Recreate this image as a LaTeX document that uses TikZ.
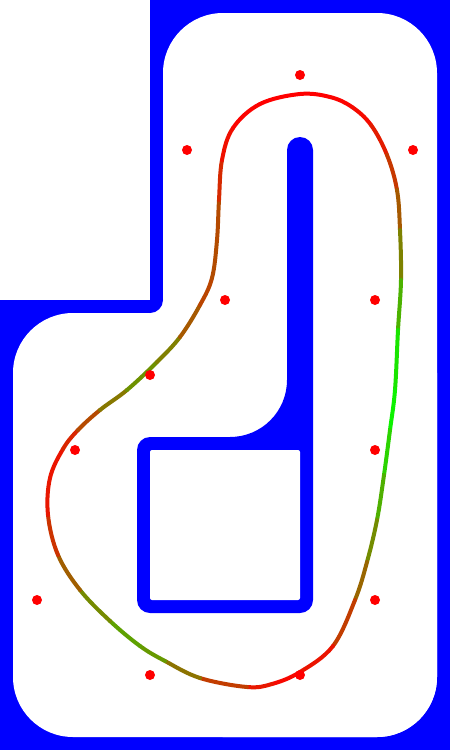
\documentclass[tikz,border=0pt]{standalone}
\usetikzlibrary{calc}
\definecolor{wallblue}{RGB}{0,0,255}
\definecolor{dotred}{RGB}{255,0,0}
\tikzset{
  wall/.style={fill=wallblue},
  floor/.style={fill=white},
  racing/.style={line width=4pt, line cap=round},
  conedot/.style={fill=dotred}
}
\newcommand\redval[1]{\ifcase#1 100\or 100\or 98\or 94\or 85\or 72\or 58\or 40\or 20\or 0\or 10\or 25\or 38\or 52\or 68\or 85\or 100\or 95\or 88\or 65\or 45\or 36\or 38\or 55\or 72\or 88\or 95\or 90\or 80\or 62\or 45\or 42\or 58\or 72\or 75\or 65\or 78\or 90\or 98\or 100\fi}
\begin{document}
\begin{tikzpicture}[x=1pt,y=-1pt]
\useasboundingbox (0,0) rectangle (450,750);
% background walls
\fill[wall] (0,0) rectangle (450,750);
% track floor
\fill[floor, rounded corners=60pt] (163,13) rectangle (437,737);
\fill[floor, rounded corners=60pt] (13,313) rectangle (437,737);
\fill[floor] (150,300) rectangle (163,313);
\fill[wall] (150,300) circle[radius=13pt];
% outside area
\fill[floor] (0,0) rectangle (150,300);
% inner obstacle
\fill[wall] (287,150) .. controls (287,142.8) and (292.8,137) .. (300,137)
  .. controls (307.2,137) and (313,142.8) .. (313,150)
  -- (313,600) .. controls (313,607.2) and (307.2,613) .. (300,613)
  -- (150,613) .. controls (142.8,613) and (137,607.2) .. (137,600)
  -- (137,450) .. controls (137,442.8) and (142.8,437) .. (150,437)
  -- (230,437) .. controls (261.5,437) and (287,411.5) .. (287,380)
  -- cycle;
\fill[floor, rounded corners=2pt] (150,450) rectangle (300,600);
% racing line
\coordinate (c0) at (300,94);
\coordinate (c1) at (330,97);
\coordinate (c2) at (352,107);
\coordinate (c3) at (371,125);
\coordinate (c4) at (387,155);
\coordinate (c5) at (397,190);
\coordinate (c6) at (400,230);
\coordinate (c7) at (401,280);
\coordinate (c8) at (398,330);
\coordinate (c9) at (395,390);
\coordinate (c10) at (390,430);
\coordinate (c11) at (384,475);
\coordinate (c12) at (377,520);
\coordinate (c13) at (367,562);
\coordinate (c14) at (355,600);
\coordinate (c15) at (333,646);
\coordinate (c16) at (300,672);
\coordinate (c17) at (272,684);
\coordinate (c18) at (247,687);
\coordinate (c19) at (200,678);
\coordinate (c20) at (165,661);
\coordinate (c21) at (140,646);
\coordinate (c22) at (110,621);
\coordinate (c23) at (80,590);
\coordinate (c24) at (58,555);
\coordinate (c25) at (48,515);
\coordinate (c26) at (50,478);
\coordinate (c27) at (63,449);
\coordinate (c28) at (78,430);
\coordinate (c29) at (100,410);
\coordinate (c30) at (127,390);
\coordinate (c31) at (157,362);
\coordinate (c32) at (180,337);
\coordinate (c33) at (200,305);
\coordinate (c34) at (212,278);
\coordinate (c35) at (217,240);
\coordinate (c36) at (219,200);
\coordinate (c37) at (222,160);
\coordinate (c38) at (233,128);
\coordinate (c39) at (260,104);
\foreach \i in {0,...,39}{
  \pgfmathtruncatemacro\ih{mod(\i+39,40)}
  \pgfmathtruncatemacro\ij{mod(\i+1,40)}
  \pgfmathtruncatemacro\ik{mod(\i+2,40)}
  \pgfmathtruncatemacro\pc{(\redval{\i}+\redval{\ij})/2}
  \draw[racing, draw=red!\pc!green] (c\i)
    .. controls ($(c\i)+0.16667*(c\ij)-0.16667*(c\ih)$)
    and ($(c\ij)-0.16667*(c\ik)+0.16667*(c\i)$) .. (c\ij);
}
% cones
\foreach \p in {(300,75),(187,150),(413,150),(225,300),(375,300),(150,375),(75,450),(375,450),(37,600),(375,600),(150,675),(300,675)}
  \fill[conedot] \p circle[radius=5pt];
\end{tikzpicture}
\end{document}
